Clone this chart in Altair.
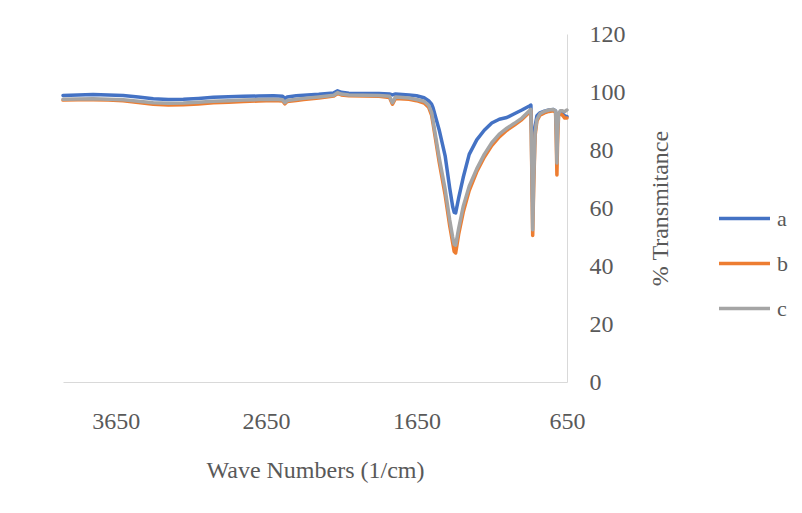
import altair as alt
import pandas as pd

wave_numbers = [4000, 3900, 3800, 3700, 3600, 3500, 3400, 3300, 3200, 3100,
                3000, 2900, 2800, 2700, 2600, 2540, 2525, 2510, 2450, 2400,
                2300, 2200, 2175, 2150, 2100, 2000, 1900, 1830, 1810, 1790,
                1700, 1650, 1600, 1570, 1550, 1540, 1500, 1460, 1430, 1410,
                1400, 1390, 1370, 1340, 1300, 1250, 1200, 1150, 1100, 1050,
                1000, 950, 900, 890, 884, 878, 872, 862, 850, 830,
                800, 770, 740, 726, 721, 717, 713, 706, 695, 680,
                665, 650]

series_a = [98.8, 99.0, 99.1, 99.0, 98.8, 98.3, 97.7, 97.4, 97.5, 97.8,
            98.2, 98.4, 98.5, 98.6, 98.7, 98.5, 97.8, 98.3, 98.7, 98.9,
            99.2, 99.7, 100.4, 99.9, 99.6, 99.5, 99.5, 99.3, 99.0, 99.3,
            99.0, 98.7, 98.0, 97.0, 95.8, 94.5, 87.0, 78.0, 67.0, 60.5,
            58.5, 58.3, 63.5, 70.5, 78.5, 83.5, 86.8, 89.3, 90.6, 91.2,
            92.5, 93.8, 95.2, 95.5, 85.0, 62.0, 76.0, 88.0, 91.8, 92.8,
            93.4, 93.8, 94.0, 93.5, 90.0, 85.0, 90.0, 92.5, 92.8, 92.5,
            91.8, 91.5]

series_b = [97.2, 97.3, 97.3, 97.2, 97.0, 96.4, 95.8, 95.5, 95.6, 95.9,
            96.3, 96.5, 96.7, 96.9, 97.1, 96.9, 95.9, 96.7, 97.1, 97.4,
            97.9, 98.6, 99.5, 99.0, 98.7, 98.6, 98.5, 98.1, 95.8, 97.8,
            97.5, 97.0, 96.2, 94.8, 92.0, 89.0, 76.0, 64.5, 54.0, 48.0,
            45.0, 44.5, 51.0, 58.5, 66.0, 72.5, 77.5, 81.5, 84.5, 86.8,
            88.6, 90.5, 93.0, 93.5, 73.0, 50.5, 66.0, 85.0, 90.0, 92.0,
            92.8, 93.3, 93.5, 93.0, 82.0, 71.4, 82.0, 92.0, 92.5, 92.0,
            91.0, 91.0]

series_c = [97.5, 97.6, 97.7, 97.5, 97.3, 96.8, 96.3, 96.1, 96.2, 96.5,
            96.8, 97.0, 97.2, 97.4, 97.5, 97.3, 96.3, 97.1, 97.5, 97.8,
            98.3, 98.9, 99.8, 99.3, 99.0, 98.9, 98.8, 98.5, 96.3, 98.3,
            97.9, 97.4, 96.8, 95.5, 93.0, 90.0, 77.5, 66.5, 56.0, 50.0,
            47.5, 47.2, 53.0, 60.5, 67.5, 73.5, 78.5, 82.5, 85.5, 87.5,
            89.2, 91.0, 93.5, 94.0, 75.0, 52.5, 68.0, 86.0, 90.5, 92.5,
            93.3, 93.8, 94.0, 93.5, 85.0, 75.5, 85.0, 92.5, 93.5, 93.5,
            93.2, 93.8]

series_names = ["a", "b", "c"]
series_colors = ["#4472C4", "#ED7D31", "#A5A5A5"]
x_ticks = [3650, 2650, 1650, 650]
y_ticks = [0, 20, 40, 60, 80, 100, 120]

rows = []
for name, vals in zip(series_names, [series_a, series_b, series_c]):
    for i, (w, v) in enumerate(zip(wave_numbers, vals)):
        rows.append({"wn": w, "T": v, "series": name, "idx": i})
df = pd.DataFrame(rows)

FONT = "Liberation Serif"
TXT = "#595959"
AX = "#D9D9D9"

chart = alt.Chart(df).mark_line(strokeWidth=3.5, strokeJoin="round", strokeCap="round").encode(
    x=alt.X("wn:Q",
            scale=alt.Scale(domain=[650, 4000], reverse=True, nice=False, zero=False),
            axis=alt.Axis(values=x_ticks, format="d", title="Wave Numbers (1/cm)", grid=False,
                          ticks=False, tickSize=0, labelPadding=27, labelFlush=False,
                          labelOverlap=False,
                          labelFont=FONT, labelFontSize=24, labelColor=TXT,
                          domainColor=AX, domainWidth=1,
                          titleFont=FONT, titleFontSize=24, titleFontWeight="normal",
                          titleColor=TXT, titleY=88, titleBaseline="middle")),
    y=alt.Y("T:Q",
            scale=alt.Scale(domain=[0, 120], nice=False),
            axis=alt.Axis(orient="right", values=y_ticks, format="d", title="% Transmitance",
                          grid=False, ticks=False, tickSize=0, labelPadding=22,
                          labelFlush=False,
                          labelFont=FONT, labelFontSize=24, labelColor=TXT,
                          domainColor=AX, domainWidth=1,
                          titleFont=FONT, titleFontSize=24, titleFontWeight="normal",
                          titleColor=TXT, titleAngle=270, titleX=93, titleY=174,
                          titleAlign="center", titleBaseline="middle")),
    color=alt.Color("series:N",
                    scale=alt.Scale(domain=series_names, range=series_colors),
                    legend=alt.Legend(title=None, orient="none", legendX=654, legendY=157,
                                      symbolType="stroke", symbolSize=2601, symbolStrokeWidth=3.5,
                                      labelFont=FONT, labelFontSize=22, labelColor=TXT,
                                      labelOffset=5, rowPadding=6, padding=0)),
    order=alt.Order("idx:Q"),
).properties(
    width=504, height=348,
    autosize=alt.AutoSizeParams(type="none"),
    padding={"left": 55, "top": 26, "right": 227, "bottom": 123},
).configure_view(stroke=None)

chart.save("out.html", embed_options={"renderer": "svg", "actions": False})
